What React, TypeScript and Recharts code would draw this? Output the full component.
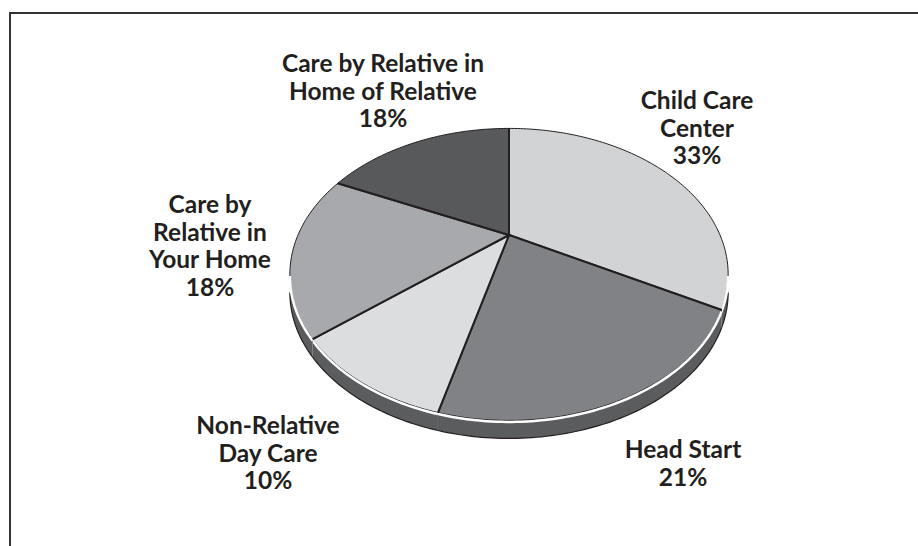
// @ts-nocheck
import { PieChart, Pie, Cell } from 'recharts'

const categories = [
  'Child Care Center',
  'Head Start',
  'Non-Relative Day Care',
  'Care by Relative in Your Home',
  'Care by Relative in Home of Relative',
]
const shares = [33, 21, 10, 18, 18]
const labelLines = [
  ['Child Care', 'Center'],
  ['Head Start'],
  ['Non-Relative', 'Day Care'],
  ['Care by', 'Relative in', 'Your Home'],
  ['Care by Relative in', 'Home of Relative'],
]
const COLORS = ['#d1d3d4', '#808285', '#dcddde', '#a7a9ac', '#58595b']

// where each label block sits (first baseline)
const LABEL_POS = [
  { x: 697, y: 109 },
  { x: 683, y: 458 },
  { x: 268, y: 434 },
  { x: 210, y: 213 },
  { x: 383, y: 72 },
]

const data = categories.map((name, i) => ({ name, value: shares[i] }))

// fake 3d: perspective tilt of the pie disc
const TILT = 136 / 212
const PERSP = 0.27
const DEPTH = 18
const FRONT_LO = -180 + (Math.asin(PERSP) * 180) / Math.PI
const FRONT_HI = -(Math.asin(PERSP) * 180) / Math.PI

function project(cx, cy, r, deg) {
  const t = (deg * Math.PI) / 180
  const u = Math.cos(t)
  const v = Math.sin(t)
  const w = 1 + PERSP * v
  return [cx + (r * u) / w, cy - (r * TILT * v) / w]
}

function arcPts(cx, cy, r, from, to, dy = 0) {
  const pts = []
  const n = Math.max(2, Math.ceil(Math.abs(to - from)))
  for (let i = 0; i <= n; i++) {
    const [x, y] = project(cx, cy, r, from + ((to - from) * i) / n)
    pts.push([x, y + dy])
  }
  return pts
}

const toPath = (pts) => pts.map((p, i) => `${i ? 'L' : 'M'}${p[0].toFixed(2)},${p[1].toFixed(2)}`).join('')

function Slice3D(props) {
  const { cx, cy, outerRadius, startAngle, endAngle, fill } = props
  const hi = Math.max(startAngle, endAngle)
  const lo = Math.min(startAngle, endAngle)
  const arc = arcPts(cx, cy, outerRadius, startAngle, endAngle)
  const face = `M${cx},${cy}` + toPath(arc).replace('M', 'L') + 'Z'

  const fLo = Math.max(lo, FRONT_LO)
  const fHi = Math.min(hi, FRONT_HI)
  let rim = null
  let rimEdge = null
  let shine = null
  if (fHi > fLo) {
    const top = arcPts(cx, cy, outerRadius, fLo, fHi)
    const bottom = arcPts(cx, cy, outerRadius, fHi, fLo, DEPTH)
    rim = toPath(top.concat(bottom)) + 'Z'
    rimEdge = toPath(bottom)
    shine = toPath(arcPts(cx, cy, outerRadius, fLo, fHi, 1.5))
  }

  return (
    <g>
      {rim && <path d={rim} fill="#5b5c5e" stroke="none" />}
      {rimEdge && <path d={rimEdge} fill="none" stroke="#231f20" strokeWidth={1.2} />}
      <path d={face} fill={fill} stroke="none" />
      <path d={toPath(arc)} fill="none" stroke="#231f20" strokeWidth={1} />
      {shine && <path d={shine} fill="none" stroke="#ffffff" strokeWidth={2.5} />}
      <path
        d={`M${arc[0][0]},${arc[0][1]}L${cx},${cy}L${arc[arc.length - 1][0]},${arc[arc.length - 1][1]}`}
        fill="none"
        stroke="#231f20"
        strokeWidth={2}
        strokeLinejoin="round"
      />
    </g>
  )
}

function renderLabel(props) {
  const { index, value } = props
  const pos = LABEL_POS[index]
  const lines = [...labelLines[index], `${value}%`]
  return (
    <text
      key={`lbl-${index}`}
      x={pos.x}
      y={pos.y}
      textAnchor="middle"
      fill="#231f20"
      fontFamily="Lato, 'Open Sans', sans-serif"
      fontWeight={700}
      fontSize={24.5}
    >
      {lines.map((t, i) => (
        <tspan key={i} x={pos.x} dy={i === 0 ? 0 : 27.5}>
          {t}
        </tspan>
      ))}
    </text>
  )
}

export default function App() {
  return (
    <div style={{ position: 'absolute', left: 0, top: 0, width: 918, height: 546, overflow: 'hidden', background: '#fff' }}>
      <div
        style={{
          position: 'absolute',
          left: 9,
          top: 12,
          width: 1200,
          height: 1000,
          borderLeft: '2.5px solid #333',
          borderTop: '2.5px solid #333',
        }}
      />
      <div style={{ position: 'absolute', left: 0, top: 0 }}>
        <PieChart width={918} height={546} margin={{ top: 0, right: 0, bottom: 0, left: 0 }}>
          <Pie
            data={data}
            dataKey="value"
            nameKey="name"
            cx={509}
            cy={235}
            outerRadius={211}
            startAngle={90}
            endAngle={-270}
            shape={Slice3D}
            label={renderLabel}
            labelLine={false}
            isAnimationActive={false}
          >
            {data.map((d, i) => (
              <Cell key={`c-${i}`} fill={COLORS[i]} />
            ))}
          </Pie>
        </PieChart>
      </div>
    </div>
  )
}
